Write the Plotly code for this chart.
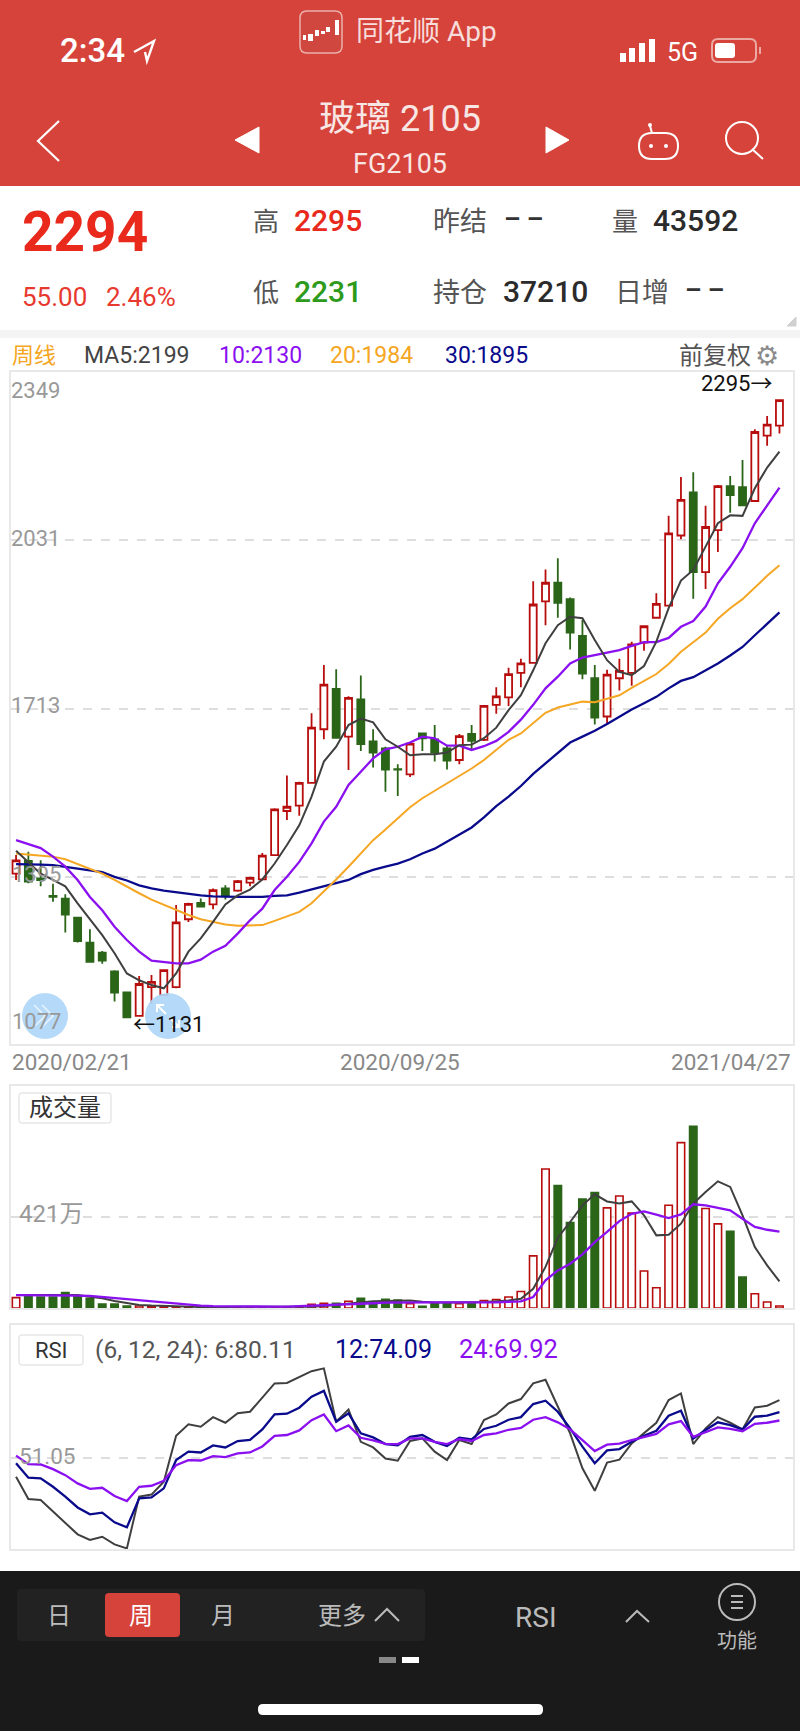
import plotly.graph_objects as go

W = 800
H = 1731

# weekly candles
opens = [1402,1426,1393,1360,1355,1319,1272,1253,1218,1178,1134,1188,1173,1188,1316,1347,1344,1374,1370,1385,1391,
         1437,1520,1530,1573,1674,1750,1660,1730,1651,1638,1599,1589,1666,1655,1638,1616,1665,1654,1720,1734,1780,
         1799,1915,1950,1919,1850,1770,1698,1770,1780,1837,1884,1907,2039,2120,1970,2049,2132,2130,2104,2227,2246]
highs = [1437,1443,1427,1383,1363,1319,1297,1256,1220,1178,1209,1211,1220,1343,1347,1355,1374,1380,1390,1396,1441,
         1525,1587,1575,1704,1795,1787,1736,1775,1674,1641,1608,1647,1668,1682,1644,1665,1682,1718,1753,1790,1807,
         1953,1975,1996,1922,1880,1795,1786,1807,1839,1868,1930,2076,2149,2158,2095,2134,2151,2181,2239,2264,2295]
lows = [1390,1384,1378,1349,1291,1272,1236,1232,1161,1131,1134,1157,1173,1186,1311,1338,1335,1353,1368,1378,1390,
        1436,1503,1511,1572,1655,1657,1597,1633,1602,1556,1548,1584,1633,1613,1598,1608,1635,1652,1703,1718,1753,
        1798,1870,1884,1824,1768,1683,1685,1747,1756,1822,1883,1905,2032,1920,1938,2008,2082,2095,2103,2208,2231]
closes = [1427,1387,1390,1358,1325,1275,1236,1238,1178,1131,1194,1198,1220,1310,1345,1340,1371,1361,1388,1394,1436,
          1523,1528,1573,1677,1758,1658,1733,1646,1630,1598,1598,1647,1657,1630,1615,1661,1652,1718,1736,1778,1798,
          1909,1950,1912,1856,1779,1696,1777,1784,1834,1868,1910,2043,2106,1970,2055,2132,2115,2096,2234,2248,2294]

ma5 = [1445,1424,1402,1390,1378,1346,1316,1286,1252,1214,1201,1192,1186,1214,1255,1280,1311,1344,1361,1372,1391,
       1421,1456,1493,1547,1613,1641,1682,1694,1687,1655,1641,1625,1627,1627,1630,1644,1645,1657,1677,1710,1738,
       1785,1836,1870,1886,1883,1842,1804,1782,1776,1793,1839,1902,1954,1974,2018,2062,2077,2076,2128,2167,2197]
ma10 = [1465,1458,1450,1434,1415,1390,1358,1333,1302,1277,1255,1238,1235,1233,1233,1240,1255,1266,1289,1314,1336,
        1371,1396,1424,1459,1500,1528,1569,1594,1619,1636,1641,1649,1660,1657,1643,1643,1635,1642,1652,1669,1692,
        1720,1751,1773,1798,1809,1814,1819,1823,1831,1838,1838,1846,1867,1878,1905,1949,1980,2015,2062,2096,2129]
ma20 = [1440,1438,1437,1434,1429,1420,1410,1402,1390,1377,1365,1353,1343,1333,1324,1316,1311,1306,1304,1304,1305,
        1313,1321,1330,1346,1368,1391,1415,1440,1465,1485,1506,1527,1544,1558,1572,1585,1600,1616,1635,1654,1666,
        1686,1705,1715,1721,1726,1725,1731,1738,1752,1765,1778,1797,1820,1838,1856,1882,1902,1919,1941,1963,1983]
ma30 = [1420,1420,1419,1418,1415,1412,1409,1405,1396,1389,1380,1374,1370,1367,1363,1361,1359,1358,1358,1358,1358,
        1360,1361,1366,1372,1378,1384,1390,1401,1409,1415,1421,1429,1440,1449,1462,1476,1489,1508,1529,1547,1567,
        1590,1610,1630,1649,1660,1671,1684,1698,1711,1723,1735,1751,1765,1772,1785,1798,1813,1829,1851,1872,1894]

# volume in 万
volume = [48,54,51,51,72,55,45,18,18,9,9,6,5,5,5,4,5,4,4,3,3,3,3,3,17,22,22,31,45,29,40,37,
          20,8,20,20,20,23,35,39,51,76,241,643,567,395,504,534,463,518,439,171,94,475,765,840,460,389,355,143,66,28,9]
vol_ma5 = [60,60,60,57,60,60,52,45,32,22,14,11,9,6,5,5,5,5,5,5,5,5,5,5,6,9,14,18,26,31,32,35,
           35,29,25,25,25,26,28,31,35,43,89,190,325,398,475,526,493,483,493,429,336,339,390,483,537,586,560,429,282,197,123]
vol_ma10 = [60,60,59,57,57,57,56,51,46,42,37,32,28,22,15,11,9,8,6,6,6,6,6,8,9,11,14,17,20,22,25,26,
            26,26,26,26,26,25,25,26,29,31,51,128,174,205,248,305,352,402,436,447,432,416,433,480,475,463,452,413,375,362,353]

rsi6 = [41.9,30.8,30.3,24.5,19.0,13.2,10.4,12.0,8.2,6.2,32.0,33.0,39.4,62.3,68.0,66.8,71.6,68.8,73.5,74.3,81.3,
        88.4,88.6,91.4,94.5,95.9,69.3,75.4,59.3,56.5,51.0,49.9,59.7,61.0,54.4,50.2,60.2,58.2,70.1,72.9,78.4,80.6,
        88.4,90.2,76.8,63.5,46.1,34.9,49.0,50.4,58.5,63.5,68.8,80.1,83.4,58.2,66.0,71.6,68.8,65.5,76.4,77.3,80.11]
rsi12 = [48.6,41.4,41.1,36.9,32.0,26.6,23.2,24.0,19.2,16.7,31.1,31.6,36.1,50.2,54.4,54.0,57.5,56.5,59.7,60.3,65.5,
         73.0,73.3,76.3,81.8,84.7,69.3,73.5,63.5,61.5,58.2,57.5,61.8,62.7,59.3,57.2,61.3,60.5,65.7,67.3,70.3,71.6,
         78.1,79.8,74.3,66.0,56.9,48.6,55.0,55.7,59.3,62.3,64.8,72.3,74.8,61.0,65.2,69.0,67.6,65.5,71.8,72.3,74.09]
rsi24 = [52.4,48.2,48.0,45.7,42.7,38.6,35.9,36.4,32.3,29.8,36.9,37.4,39.9,47.7,50.2,50.0,52.2,51.7,53.5,54.0,57.0,
         62.3,62.7,65.0,70.1,72.9,64.6,67.5,61.3,60.0,58.3,58.2,61.0,61.0,59.3,58.2,60.7,59.7,62.7,63.5,65.3,66.2,
         70.3,71.6,69.0,65.5,60.2,54.7,57.9,58.4,60.2,61.8,63.2,68.0,69.6,61.8,64.3,66.5,65.7,64.6,68.3,68.8,69.92]

price_ticks = [2349, 2031, 1713, 1395, 1077]
date_labels = ['2020/02/21', '2020/09/25', '2021/04/27']

weeks = list(range(len(closes)))

RED = '#b80d0d'
GREEN = '#2a6518'
DARK = '#3f3f3f'
PURPLE = '#8b10f0'
ORANGE = '#f5a623'
NAVY = '#0a0a8c'
HEADER = '#d6433b'
BORDER = '#e8e8e8'
GRID = '#dedede'
GREY = '#999999'
FONT = "Roboto, 'Noto Sans CJK SC', sans-serif"


def X(x):
    return x / W


def Y(y):
    return 1 - y / H


shapes = []
annotations = []


def rect(x0, y0, x1, y1, fill, line=None, width=0):
    shapes.append(dict(type='rect', xref='paper', yref='paper', x0=X(x0), x1=X(x1), y0=Y(y0), y1=Y(y1),
                       fillcolor=fill, line=dict(color=line or fill, width=width)))


def rrect(x0, y0, x1, y1, r, fill, line=None, width=0):
    p = (f'M{X(x0+r)},{Y(y0)} L{X(x1-r)},{Y(y0)} Q{X(x1)},{Y(y0)} {X(x1)},{Y(y0+r)} '
         f'L{X(x1)},{Y(y1-r)} Q{X(x1)},{Y(y1)} {X(x1-r)},{Y(y1)} L{X(x0+r)},{Y(y1)} '
         f'Q{X(x0)},{Y(y1)} {X(x0)},{Y(y1-r)} L{X(x0)},{Y(y0+r)} Q{X(x0)},{Y(y0)} {X(x0+r)},{Y(y0)} Z')
    shapes.append(dict(type='path', xref='paper', yref='paper', path=p, fillcolor=fill,
                       line=dict(color=line or fill, width=width)))


def circle(cx, cy, r, fill='rgba(0,0,0,0)', line=None, width=0, opacity=1):
    shapes.append(dict(type='circle', xref='paper', yref='paper', x0=X(cx-r), x1=X(cx+r), y0=Y(cy-r), y1=Y(cy+r),
                       fillcolor=fill, opacity=opacity, line=dict(color=line or fill, width=width)))


def poly(points, color='#ffffff', width=2, fill=None):
    p = 'M' + ' L'.join(f'{X(a)},{Y(b)}' for a, b in points)
    if fill:
        p += ' Z'
    shapes.append(dict(type='path', xref='paper', yref='paper', path=p,
                       fillcolor=fill or 'rgba(0,0,0,0)', line=dict(color=color, width=width)))


def label(text, x, y, size, color, anchor='center', weight=None):
    font = dict(family=FONT, size=size, color=color)
    if weight:
        font['weight'] = weight
    annotations.append(dict(text=text, x=X(x), y=Y(y), xref='paper', yref='paper', xanchor=anchor, yanchor='middle',
                            showarrow=False, font=font, borderpad=0))


# top bar
rect(0, 0, 800, 186, HEADER)
rect(0, 330, 800, 338, '#f4f4f4')

rrect(300, 11, 342, 53, 7, '#d0473f', '#ecb0ac', 1.5)
for x0, y0, x1, y1 in [(303, 35, 306, 40), (308, 34, 313, 41), (315, 30, 319, 36), (321, 31, 325, 34),
                       (326, 27, 330, 32), (335, 20, 339, 35)]:
    rect(x0, y0, x1, y1, '#ffffff')
label('同花顺 App', 426, 32, 28, '#f6dcda')
label('2:34', 92, 50, 33, '#ffffff', weight=500)
poly([(134, 52), (154, 41), (147, 61), (145, 52)], '#ffffff', 2.4)
for x0, x1, y0 in [(620, 626, 53), (629, 635, 48), (639, 645, 43), (649, 655, 39)]:
    rect(x0, y0, x1, 62, '#ffffff')
label('5G', 682, 52, 25, '#ffffff')
rrect(712, 39, 756, 62, 6, 'rgba(0,0,0,0)', '#eba9a4', 2)
rrect(715, 43, 735, 58, 3, '#ffffff')
poly([(760, 47), (760, 54)], '#eba9a4', 2)

poly([(59, 121), (38, 141), (59, 161)], '#ffffff', 2.2)
poly([(259, 127), (235, 140), (259, 153)], '#ffffff', 1, fill='#ffffff')
poly([(546, 127), (569, 140), (546, 153)], '#ffffff', 1, fill='#ffffff')
label('玻璃 2105', 400, 119, 36, '#f8e6e4')
label('FG2105', 400, 164, 27, '#f8e6e4')
rrect(639, 133, 678, 159, 13, 'rgba(0,0,0,0)', '#ffffff', 2)
poly([(650, 126), (652, 133)], '#ffffff', 2)
circle(650, 125, 2, '#ffffff')
circle(651, 146, 2, '#ffffff')
circle(666, 146, 2, '#ffffff')
circle(742, 138, 16, line='#ffffff', width=2)
poly([(752, 149), (763, 159)], '#ffffff', 2)

# quote block
label('2294', 21, 232, 55, '#e8291c', 'left', 700)
label('55.00', 21, 297, 26, '#e8392e', 'left')
label('2.46%', 105, 297, 26, '#e8392e', 'left')
label('高', 252, 222, 26, '#555555', 'left')
label('2295', 293, 220, 30, '#e8291c', 'left', 500)
label('昨结', 432, 222, 27, '#555555', 'left')
label('– –', 503, 219, 26, '#333333', 'left', 700)
label('量', 611, 222, 26, '#555555', 'left')
label('43592', 652, 220, 30, '#2b2b2b', 'left', 500)
label('低', 252, 293, 26, '#555555', 'left')
label('2231', 293, 291, 30, '#2e9a1c', 'left', 500)
label('持仓', 432, 293, 27, '#555555', 'left')
label('37210', 502, 291, 30, '#2b2b2b', 'left', 500)
label('日增', 614, 293, 27, '#555555', 'left')
label('– –', 684, 290, 26, '#333333', 'left', 700)
poly([(796, 317), (796, 326), (787, 326)], '#d0d0d0', 1, fill='#d0d0d0')

# legend row
label('周线', 11, 356, 22, ORANGE, 'left')
label('MA5:2199', 83, 356, 23, '#444444', 'left')
label('10:2130', 218, 356, 23, PURPLE, 'left')
label('20:1984', 329, 356, 23, ORANGE, 'left')
label('30:1895', 444, 356, 23, NAVY, 'left')
label('前复权', 678, 356, 24, '#555555', 'left')
label('⚙', 767, 356, 27, '#8a8a8a')

# price axis labels and extremes
label(str(price_ticks[0]), 10, 391, 22, GREY, 'left')
label(str(price_ticks[1]), 10, 538, 22, GREY, 'left')
label(str(price_ticks[2]), 10, 706, 22, GREY, 'left')
label(str(price_ticks[3]), 11, 874, 22, GREY, 'left')
label(str(price_ticks[4]), 11, 1021, 22, GREY, 'left')
label('2295→', 700, 383, 22, '#111111', 'left')
label('←1131', 132, 1024, 22, '#111111', 'left')
label(date_labels[0], 11, 1062, 22.5, '#888888', 'left')
label(date_labels[1], 400, 1062, 22.5, '#888888')
label(date_labels[2], 792, 1062, 22.5, '#888888', 'right')

circle(45, 1016, 23, '#aed6f9', opacity=0.92)
circle(168, 1016, 23, '#aed6f9', opacity=0.92)
poly([(34, 1005), (45, 1016), (34, 1027)], '#e6f3fe', 1.6)
poly([(42, 1005), (53, 1016), (42, 1027)], '#e6f3fe', 1.6)
poly([(157, 1012), (157, 1005), (164, 1005)], '#ffffff', 2)
poly([(157, 1005), (166, 1014)], '#ffffff', 2)
poly([(179, 1020), (179, 1027), (172, 1027)], '#ffffff', 2)
poly([(179, 1027), (170, 1018)], '#ffffff', 2)

# volume and rsi captions
rrect(19, 1093, 111, 1123, 3, '#ffffff', '#e8e8e8', 1.5)
label('成交量', 65, 1108, 24, '#333333')
label('421万', 18, 1214, 24, GREY, 'left')
rrect(19, 1335, 83, 1365, 3, '#ffffff', '#e8e8e8', 1.5)
label('RSI', 51, 1350, 22, '#333333')
label('(6, 12, 24): 6:80.11', 94, 1349, 24.5, '#555555', 'left')
label('12:74.09', 334, 1349, 25, NAVY, 'left')
label('24:69.92', 458, 1349, 25.5, PURPLE, 'left')
label('51.05', 18, 1456, 22.5, GREY, 'left')

# bottom bar
rect(0, 1571, 800, 1731, '#1a1a1a')
rrect(17, 1589, 425, 1641, 4, '#222222')
rrect(105, 1593, 180, 1637, 4, HEADER)
label('日', 59, 1616, 24, '#bbbbbb')
label('周', 141, 1616, 24, '#ffffff')
label('月', 223, 1616, 24, '#bbbbbb')
label('更多', 342, 1616, 24, '#bbbbbb')
poly([(375, 1621), (387, 1609), (399, 1621)], '#bbbbbb', 2)
label('RSI', 536, 1617, 28, '#bbbbbb')
poly([(626, 1622), (637, 1611), (649, 1622)], '#bbbbbb', 2)
circle(737, 1602, 18, line='#bbbbbb', width=2)
for ly in (1596, 1602, 1608):
    poly([(731, ly), (743, ly)], '#bbbbbb', 2)
label('功能', 737, 1641, 20, '#bbbbbb')
rect(379, 1657, 396, 1663, '#888888')
rect(402, 1657, 419, 1663, '#ffffff')
rrect(258, 1704, 543, 1715, 5, '#ffffff')

fig = go.Figure()

fig.add_trace(go.Candlestick(x=weeks, open=opens, high=highs, low=lows, close=closes, xaxis='x', yaxis='y',
                             increasing=dict(fillcolor='#ffffff', line=dict(color=RED, width=1.8)),
                             decreasing=dict(fillcolor=GREEN, line=dict(color=GREEN, width=1.8))))
for vals, col, wid in [(ma30, NAVY, 2.3), (ma20, ORANGE, 2), (ma10, PURPLE, 2.3), (ma5, DARK, 2)]:
    fig.add_trace(go.Scatter(x=weeks, y=vals, mode='lines', line=dict(color=col, width=wid), xaxis='x', yaxis='y'))

up = [c >= o for o, c in zip(opens, closes)]
fig.add_trace(go.Bar(x=weeks, y=volume, width=0.6, xaxis='x2', yaxis='y2',
                     marker=dict(color=['#ffffff' if u else GREEN for u in up],
                                 line=dict(color=[RED if u else GREEN for u in up], width=1.6))))
fig.add_trace(go.Scatter(x=weeks, y=vol_ma5, mode='lines', line=dict(color=DARK, width=2), xaxis='x2', yaxis='y2'))
fig.add_trace(go.Scatter(x=weeks, y=vol_ma10, mode='lines', line=dict(color=PURPLE, width=2.3), xaxis='x2', yaxis='y2'))

fig.add_trace(go.Scatter(x=weeks, y=rsi6, mode='lines', line=dict(color=DARK, width=2), xaxis='x3', yaxis='y3'))
fig.add_trace(go.Scatter(x=weeks, y=rsi12, mode='lines', line=dict(color=NAVY, width=2.3), xaxis='x3', yaxis='y3'))
fig.add_trace(go.Scatter(x=weeks, y=rsi24, mode='lines', line=dict(color=PURPLE, width=2.3), xaxis='x3', yaxis='y3'))

x_range = [-0.41, 63.1]
x_domain = [11 / W, 793 / W]


def x_axis(anchor):
    return dict(domain=x_domain, range=x_range, anchor=anchor, showgrid=False, zeroline=False, showticklabels=False,
                ticks='', showline=True, mirror=True, linecolor=BORDER, linewidth=2, rangeslider=dict(visible=False))


def y_axis(top, bottom, y_range, grid_vals, anchor):
    return dict(domain=[Y(bottom), Y(top)], range=y_range, anchor=anchor, tickvals=grid_vals, showticklabels=False,
                ticks='', zeroline=False, showgrid=True, gridcolor=GRID, griddash='dash', gridwidth=1.5,
                showline=True, mirror=True, linecolor=BORDER, linewidth=2)


fig.update_layout(
    width=W, height=H,
    margin=dict(l=0, r=0, t=0, b=0),
    paper_bgcolor='#ffffff', plot_bgcolor='#ffffff',
    showlegend=False, boxgap=0.43, boxgroupgap=0, bargap=0.4,
    xaxis=x_axis('y'), yaxis=y_axis(372, 1044, [1081, 2347], price_ticks[1:4], 'x'),
    xaxis2=x_axis('y2'), yaxis2=y_axis(1086, 1308, [0, 1027], [421], 'x2'),
    xaxis3=x_axis('y3'), yaxis3=y_axis(1325, 1549, [5.9, 117.5], [51.05], 'x3'),
    shapes=shapes, annotations=annotations,
)

fig.write_html("out.html", config=dict(displayModeBar=False),
               post_script="document.body.style.margin='0';document.body.style.overflow='hidden';")
